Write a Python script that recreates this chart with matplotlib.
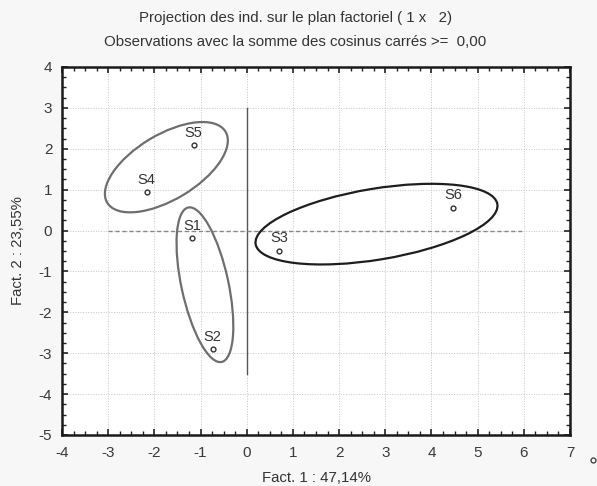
import numpy as np
import matplotlib
matplotlib.use("Agg")
import matplotlib.pyplot as plt
from matplotlib.patches import Ellipse
from matplotlib.transforms import ScaledTranslation
from matplotlib.lines import Line2D

plt.rcParams['font.family'] = ['Liberation Sans', 'DejaVu Sans']
plt.rcParams['axes.unicode_minus'] = False

# individus projetés sur le plan factoriel
labels = ["S1", "S2", "S3", "S4", "S5", "S6"]
fact1 = [-1.18, -0.74, 0.70, -2.17, -1.15, 4.47]
fact2 = [-0.19, -2.90, -0.49, 0.94, 2.09, 0.56]

# groupes entourés à la main : centre (données), demi-axes (px), angle (deg), couleur
ell_cx = [-1.74, -0.905, 2.81]
ell_cy = [1.55, -1.325, 0.157]
ell_a = [69, 79, 122.5]
ell_b = [32.5, 23.5, 35.5]
ell_ang = [31, -77.8, 9.4]
ell_col = ['#6e6e6e', '#6e6e6e', '#1e1e1e']

xticks = np.arange(-4, 8)
yticks = np.arange(-5, 5)

fig = plt.figure(figsize=(5.97, 4.86), dpi=100, facecolor='#f7f7f7')
ax = fig.add_axes([62/597, 1-435/486, 508/597, 368/486])
ax.set_facecolor('white')

ax.set_xlim(-4, 7)
ax.set_ylim(-5, 4)
ax.set_xticks(xticks)
ax.set_yticks(yticks)
ax.set_xticks(np.arange(-4, 7.01, 0.25), minor=True)
ax.set_yticks(np.arange(-5, 4.01, 0.25), minor=True)
ax.tick_params(which='both', direction='in', top=True, right=True,
               colors='#222222', labelcolor='#3a3a3a', labelsize=11)
ax.tick_params(which='major', length=4, width=1.2)
ax.tick_params(which='minor', length=3, width=1)
ax.tick_params(axis='x', pad=8)
ax.tick_params(axis='y', pad=7)
ax.grid(True, which='major', linestyle=':', color='#c4c4c4', linewidth=0.7)
for s in ax.spines.values():
    s.set_linewidth(1.8)
    s.set_color('#1a1a1a')

# axes de référence
ax.plot([0, 0], [3, -3.5], color='#555555', linewidth=1)
ax.plot([-3, 6], [0, 0], color='#888888', linewidth=1, linestyle=(0, (3, 2)))

ax.scatter(fact1, fact2, s=12, facecolors='white', edgecolors='#333333',
           linewidths=1, zorder=5)
for lab, x, y in zip(labels, fact1, fact2):
    ax.annotate(lab, (x, y), xytext=(0, 9), textcoords='offset points',
                ha='center', va='center', fontsize=10.5, color='#333333')

for cx, cy, a, b, ang, c in zip(ell_cx, ell_cy, ell_a, ell_b, ell_ang, ell_col):
    tr = fig.dpi_scale_trans + ScaledTranslation(cx, cy, ax.transData)
    ax.add_patch(Ellipse((0, 0), 2*a/100, 2*b/100, angle=ang, transform=tr,
                         fill=False, edgecolor=c, linewidth=1.6, zorder=4))

ax.set_xlabel("Fact. 1 : 47,14%", fontsize=10.8, color='#333333', labelpad=8)
ax.set_ylabel("Fact. 2 : 23,55%", fontsize=10.8, color='#333333', labelpad=10)

fig.text(0.495, 1-18/486, "Projection des ind. sur le plan factoriel ( 1 x   2)",
         ha='center', va='center', fontsize=10.8, color='#333333')
fig.text(0.495, 1-42/486, "Observations avec la somme des cosinus carrés >=  0,00",
         ha='center', va='center', fontsize=10.8, color='#333333')

fig.add_artist(Line2D([593/597], [1-460/486], marker='o', markersize=3.5,
                      markerfacecolor='white', markeredgecolor='#444444',
                      transform=fig.transFigure))

fig.savefig("out.png", dpi=100, facecolor=fig.get_facecolor())
